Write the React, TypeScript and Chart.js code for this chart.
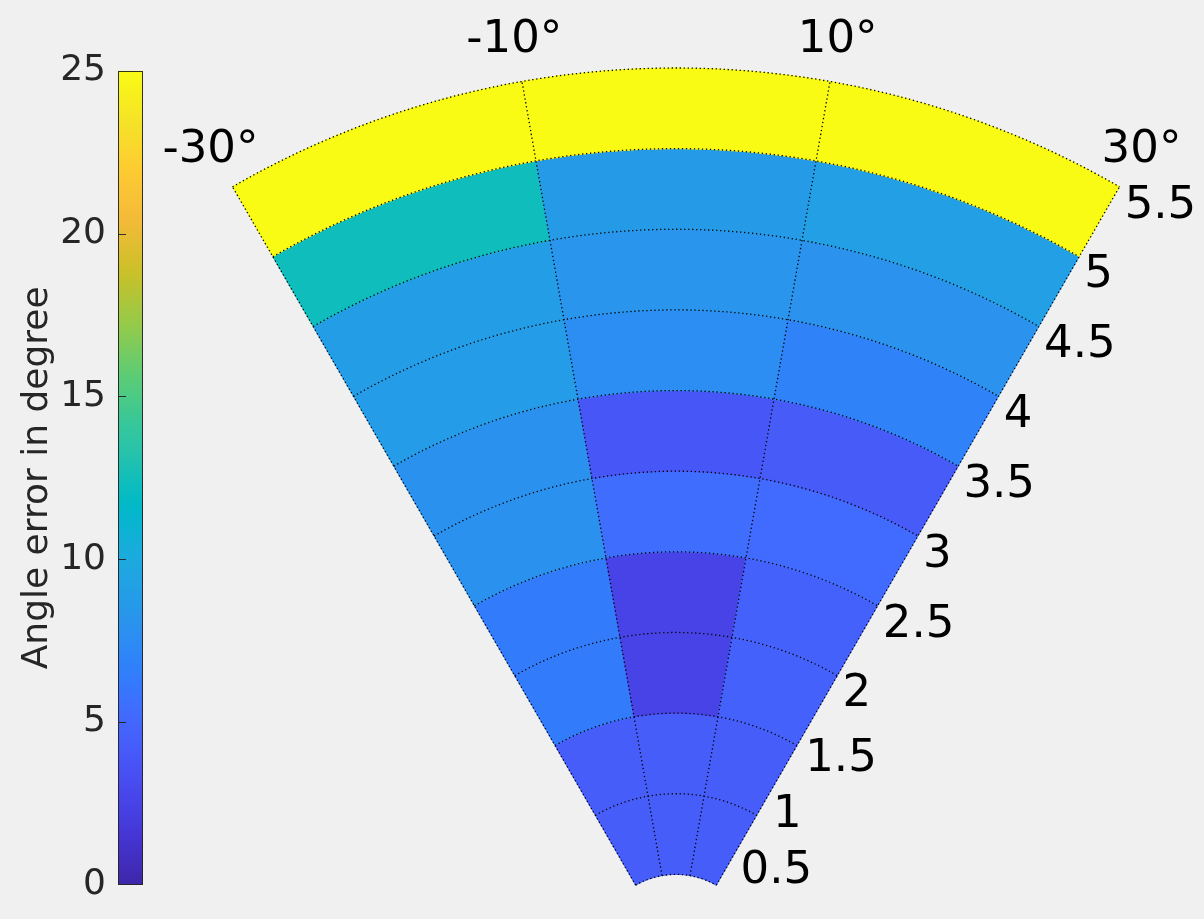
import React, { useEffect, useRef } from 'react';
import { Chart, registerables } from 'chart.js';

Chart.register(...registerables);

// Polar grid: angular bin edges (degrees, 0 = up, clockwise) and radial bin edges
const angleEdges = [-30, -10, 10, 30];
const radiusEdges = [0.5, 1, 1.5, 2, 2.5, 3, 3.5, 4, 4.5, 5, 5.5];

// Mean angle error per radial bin (inner -> outer) for each angular sector
const errorSectorLeft = [4.3, 4.3, 6.4, 6.4, 7.9, 7.9, 8.8, 8.9, 12.3, 25];
const errorSectorMid = [4.3, 4.3, 2.5, 2.5, 5.5, 3.8, 7.6, 8.2, 8.7, 25];
const errorSectorRight = [4.3, 4.3, 4.6, 4.6, 5.2, 4.2, 6.8, 8.0, 9.0, 25];

const colorLimits = [0, 25];
const colorTicks = [0, 5, 10, 15, 20, 25];
const angleTickLabels = ['-30°', '-10°', '10°', '30°'];
const radiusTickLabels = ['0.5', '1', '1.5', '2', '2.5', '3', '3.5', '4', '4.5', '5', '5.5'];
const colorbarLabel = 'Angle error in degree';

// Layout of the page
const PAGE_W = 1204;
const PAGE_H = 919;
const POLAR_CX = 676;
const POLAR_CY = 955;
const POLAR_R = 887;
const BG = '#f0f0f0';
const FONT = "'DejaVu Sans', sans-serif";
const BAR_CANVAS_W = 160;
const BAR_LEFT = 118;
const BAR_RIGHT = 143;

// parula colormap anchors: [index in 0..255, r, g, b]
const PARULA: number[][] = [
  [0, 0.2422, 0.1504, 0.6603],
  [8, 0.2576, 0.1814, 0.7501],
  [16, 0.2704, 0.2138, 0.8346],
  [24, 0.2781, 0.2543, 0.8973],
  [32, 0.2813, 0.2985, 0.9397],
  [40, 0.2798, 0.3421, 0.9702],
  [48, 0.271, 0.386, 0.9898],
  [56, 0.2473, 0.4319, 0.9983],
  [64, 0.2006, 0.4803, 0.9906],
  [72, 0.1795, 0.5244, 0.9709],
  [80, 0.1716, 0.5655, 0.9393],
  [88, 0.1475, 0.6043, 0.9113],
  [96, 0.1288, 0.6408, 0.891],
  [104, 0.1009, 0.675, 0.8653],
  [112, 0.0433, 0.7039, 0.8242],
  [120, 0.0018, 0.7275, 0.7752],
  [128, 0.077, 0.7468, 0.7224],
  [136, 0.1609, 0.7635, 0.6671],
  [144, 0.2061, 0.7808, 0.6065],
  [160, 0.3671, 0.8021, 0.4563],
  [176, 0.5886, 0.7913, 0.2833],
  [192, 0.7945, 0.7554, 0.157],
  [208, 0.9523, 0.7284, 0.2237],
  [224, 0.9938, 0.7974, 0.1974],
  [240, 0.9601, 0.8963, 0.1507],
  [255, 0.9769, 0.9839, 0.0805],
];

function parulaAt(t: number): string {
  const p = Math.min(1, Math.max(0, t)) * 255;
  let k = 0;
  while (k < PARULA.length - 2 && PARULA[k + 1][0] < p) k++;
  const a = PARULA[k];
  const b = PARULA[k + 1];
  const f = (p - a[0]) / (b[0] - a[0]);
  const c = [1, 2, 3].map((i) => Math.round((a[i] + (b[i] - a[i]) * f) * 255));
  return `rgb(${c[0]},${c[1]},${c[2]})`;
}

function colorFor(v: number): string {
  return parulaAt((v - colorLimits[0]) / (colorLimits[1] - colorLimits[0]));
}

const toCanvasAngle = (deg: number) => ((deg - 90) * Math.PI) / 180;

const polarGridPlugin = {
  id: 'polarGrid',
  afterDatasetsDraw(chart: any) {
    const ctx = chart.ctx;
    const n = chart.data.datasets.length;
    const outerArc = chart.getDatasetMeta(0).data[0];
    const innerArc = chart.getDatasetMeta(n - 1).data[0];
    const cx = outerArc.x;
    const cy = outerArc.y;
    const radii: number[] = [innerArc.innerRadius];
    for (let i = n - 1; i >= 0; i--) radii.push(chart.getDatasetMeta(i).data[0].outerRadius);
    const a0 = toCanvasAngle(angleEdges[0]);
    const a1 = toCanvasAngle(angleEdges[angleEdges.length - 1]);
    ctx.save();
    ctx.strokeStyle = '#000';
    ctx.lineWidth = 1.3;
    ctx.setLineDash([1.3, 2.7]);
    radii.forEach((r) => {
      ctx.beginPath();
      ctx.arc(cx, cy, r, a0, a1);
      ctx.stroke();
    });
    const rIn = radii[0];
    const rOut = radii[radii.length - 1];
    angleEdges.forEach((deg) => {
      const a = toCanvasAngle(deg);
      ctx.beginPath();
      ctx.moveTo(cx + rIn * Math.cos(a), cy + rIn * Math.sin(a));
      ctx.lineTo(cx + rOut * Math.cos(a), cy + rOut * Math.sin(a));
      ctx.stroke();
    });
    ctx.restore();
  },
  afterDraw(chart: any) {
    const ctx = chart.ctx;
    const n = chart.data.datasets.length;
    const outerArc = chart.getDatasetMeta(0).data[0];
    const innerArc = chart.getDatasetMeta(n - 1).data[0];
    const cx = outerArc.x;
    const cy = outerArc.y;
    const rIn = innerArc.innerRadius;
    const rOut = outerArc.outerRadius;
    const rSpan = radiusEdges[radiusEdges.length - 1] - radiusEdges[0];
    const toPx = (r: number) => rIn + ((r - radiusEdges[0]) / rSpan) * (rOut - rIn);

    ctx.save();
    ctx.fillStyle = '#000';
    ctx.font = `45px ${FONT}`;

    // angle labels just outside the outer arc
    ctx.textAlign = 'center';
    ctx.textBaseline = 'middle';
    angleEdges.forEach((deg, k) => {
      const a = toCanvasAngle(deg);
      const rr = rOut + 44;
      ctx.fillText(angleTickLabels[k], cx + rr * Math.cos(a), cy + rr * Math.sin(a) + 2);
    });

    // radius labels along the right edge of the sector
    const edgeDeg = angleEdges[angleEdges.length - 1];
    const ea = toCanvasAngle(edgeDeg);
    const slope = Math.tan((edgeDeg * Math.PI) / 180);
    const bottomLimit = cy + rIn * Math.sin(ea) - 16;
    let prevY = Infinity;
    ctx.textAlign = 'left';
    radiusEdges.forEach((r, i) => {
      const ey = cy + toPx(r) * Math.sin(ea);
      const y = Math.min(ey + 17, bottomLimit, prevY - 56);
      prevY = y;
      const x = cx + (cy - y) * slope + 15;
      ctx.fillText(radiusTickLabels[i], x, y + 2);
    });
    ctx.restore();
  },
};

const colorbarFramePlugin = {
  id: 'colorbarFrame',
  afterDatasetsDraw(chart: any) {
    const ctx = chart.ctx;
    const { left, right, top, bottom } = chart.chartArea;
    const yScale = chart.scales.y;
    ctx.save();
    ctx.strokeStyle = 'rgba(38,38,38,0.95)';
    ctx.lineWidth = 1;
    ctx.strokeRect(Math.round(left) + 0.5, Math.round(top) + 0.5, Math.round(right - left) - 1, Math.round(bottom - top) - 1);
    colorTicks.forEach((v) => {
      if (v === colorLimits[0] || v === colorLimits[1]) return;
      const y = Math.round(yScale.getPixelForValue(v)) + 0.5;
      ctx.beginPath();
      ctx.moveTo(left, y);
      ctx.lineTo(left + 8, y);
      ctx.stroke();
    });
    ctx.restore();
  },
};

export default function App() {
  const polarRef = useRef<HTMLCanvasElement | null>(null);
  const barRef = useRef<HTMLCanvasElement | null>(null);

  useEffect(() => {
    if (!polarRef.current || !barRef.current) return;

    // radial rings, outermost dataset first (Chart.js draws dataset 0 outside)
    const ringCount = radiusEdges.length - 1;
    const angleWidths = angleEdges.slice(1).map((a, k) => a - angleEdges[k]);
    const datasets = [];
    for (let i = ringCount - 1; i >= 0; i--) {
      const colors = [errorSectorLeft[i], errorSectorMid[i], errorSectorRight[i]].map(colorFor);
      datasets.push({
        label: `${radiusEdges[i]}–${radiusEdges[i + 1]}`,
        data: angleWidths,
        backgroundColor: colors,
        borderColor: colors,
        borderWidth: 1,
      });
    }

    const cutoutRatio = radiusEdges[0] / radiusEdges[radiusEdges.length - 1];
    const half = ((angleEdges[angleEdges.length - 1] - angleEdges[0]) / 2) * (Math.PI / 180);
    const boxLeft = POLAR_CX - POLAR_R * Math.sin(half);
    const boxRight = POLAR_CX + POLAR_R * Math.sin(half);
    const boxTop = POLAR_CY - POLAR_R;
    const boxBottom = POLAR_CY - POLAR_R * cutoutRatio * Math.cos(half);

    const polar = new Chart(polarRef.current, {
      type: 'doughnut',
      data: {
        labels: angleEdges.slice(1).map((a, k) => `${angleEdges[k]}°…${a}°`),
        datasets,
      },
      options: {
        animation: false,
        responsive: false,
        events: [],
        rotation: angleEdges[0],
        circumference: angleEdges[angleEdges.length - 1] - angleEdges[0],
        cutout: `${cutoutRatio * 100}%`,
        radius: POLAR_R,
        layout: {
          padding: {
            left: boxLeft,
            right: PAGE_W - boxRight,
            top: boxTop,
            bottom: PAGE_H - boxBottom,
          },
        },
        plugins: { legend: { display: false }, tooltip: { enabled: false } },
      } as any,
      plugins: [polarGridPlugin],
    });

    const colorbar = new Chart(barRef.current, {
      type: 'bar',
      data: {
        labels: [''],
        datasets: [
          {
            data: [[colorLimits[0], colorLimits[1]]],
            backgroundColor: (c: any) => {
              const ch = c.chart;
              const ys = ch.scales.y;
              if (!ch.chartArea || !ys) return colorFor(colorLimits[1]);
              const g = ch.ctx.createLinearGradient(0, ys.getPixelForValue(colorLimits[0]), 0, ys.getPixelForValue(colorLimits[1]));
              for (let s = 0; s <= 64; s++) g.addColorStop(s / 64, parulaAt(s / 64));
              return g;
            },
            borderWidth: 0,
            barPercentage: 1,
            categoryPercentage: 1,
          } as any,
        ],
      },
      options: {
        animation: false,
        responsive: false,
        events: [],
        layout: { padding: { top: 70.7, bottom: 34, left: 0, right: BAR_CANVAS_W - BAR_RIGHT } },
        scales: {
          x: { display: false },
          y: {
            position: 'left',
            min: colorLimits[0],
            max: colorLimits[1],
            afterFit: (s: any) => {
              s.width = BAR_LEFT;
            },
            afterBuildTicks: (s: any) => {
              s.ticks = colorTicks.map((v) => ({ value: v }));
            },
            ticks: {
              padding: 12,
              color: '#262626',
              font: { family: FONT, size: 36 },
            },
            grid: { display: false, drawTicks: false },
            border: { display: false },
            title: {
              display: true,
              text: colorbarLabel,
              color: '#262626',
              font: { family: FONT, size: 36 },
              padding: { top: 16, bottom: 0 },
            },
          },
        },
        plugins: { legend: { display: false }, tooltip: { enabled: false } },
      } as any,
      plugins: [colorbarFramePlugin],
    });

    return () => {
      polar.destroy();
      colorbar.destroy();
    };
  }, []);

  return (
    <div
      style={{
        position: 'absolute',
        left: 0,
        top: 0,
        width: PAGE_W,
        height: PAGE_H,
        background: BG,
        overflow: 'hidden',
      }}
    >
      <canvas
        ref={barRef}
        width={BAR_CANVAS_W}
        height={PAGE_H}
        style={{ position: 'absolute', left: 0, top: 0, width: BAR_CANVAS_W, height: PAGE_H }}
      />
      <canvas
        ref={polarRef}
        width={PAGE_W}
        height={PAGE_H}
        style={{ position: 'absolute', left: 0, top: 0, width: PAGE_W, height: PAGE_H }}
      />
    </div>
  );
}
